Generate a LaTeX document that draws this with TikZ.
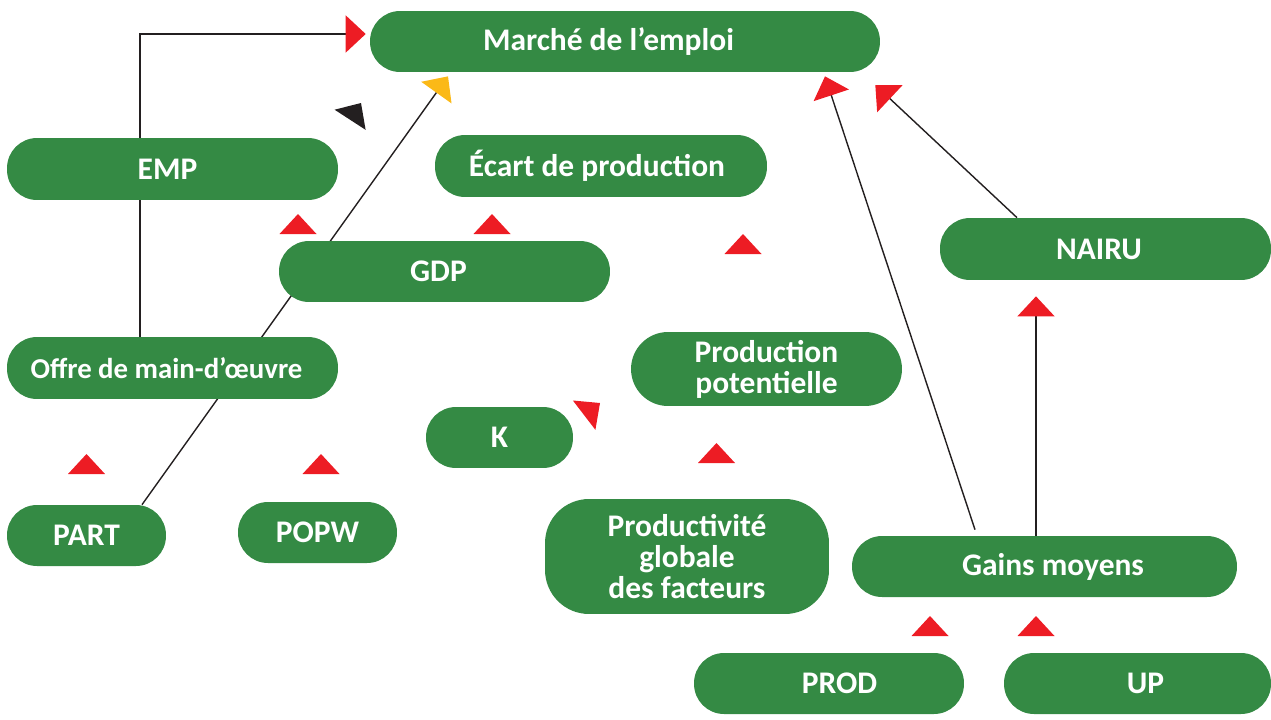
\documentclass[tikz,border=0pt]{standalone}
\usepackage{fontspec}
\setmainfont{Carlito}
\usepackage{xcolor}
\usepackage{tikz}
\usetikzlibrary{arrows.meta,calc,backgrounds}
\definecolor{boxgreen}{HTML}{348A44}
\definecolor{tipred}{HTML}{ED1C24}
\definecolor{tipyellow}{HTML}{FBB917}
\definecolor{tipblack}{HTML}{231F20}
\tikzset{%
  box/.style={fill=boxgreen, text=white, rounded corners=0.6cm, inner sep=0pt, minimum height=1.22cm, align=center, font=\fontsize{17.9}{17.6}\selectfont\bfseries},%
  textleft/.style={execute at end node={\hspace*{#1}}},%
  textright/.style={execute at begin node={\hspace*{#1}}},%
  link/.style={draw=tipblack, line width=0.8pt},%
  redtip/.style={-{Triangle[length=0.4cm, width=0.74cm, color=tipred]}},%
  yellowtip/.style={-{Triangle[length=0.4cm, width=0.74cm, color=tipyellow]}},%
  tri/.pic={\path[pic actions] (0,0) -- (-20,-18.5) -- (-20,18.5) -- cycle;},%
}

\begin{document}
\begin{tikzpicture}[x=0.02cm, y=-0.02cm]%
\useasboundingbox (0,0) rectangle (1271,720);%
\node[box, minimum width=10.2cm, textleft=0.66cm] (marche) at (625,41.5) {Marché de l’emploi};%
\node[box, minimum width=6.62cm, minimum height=1.24cm, textleft=0.2cm] (emp) at (172.5,169) {EMP};%
\node[box, minimum width=6.64cm, minimum height=1.24cm, textleft=0.16cm] (ecart) at (601,166) {Écart de production};%
\node[box, minimum width=6.62cm, textleft=0.24cm] (gdp) at (444.5,271.5) {GDP};%
\node[box, minimum width=6.62cm, minimum height=1.24cm, textleft=0.26cm] (nairu) at (1105.5,249) {NAIRU};%
\node[box, minimum width=6.62cm, minimum height=1.24cm, textleft=0.24cm, font=\fontsize{16.4}{17}\selectfont\bfseries] (offre) at (172.5,368) {Offre de main-d’œuvre};%
\node[box, minimum width=5.42cm, minimum height=1.48cm, rounded corners=0.74cm] (potent) at (766.5,369) {Production\\potentielle};%
\node[box, minimum width=2.94cm] (k) at (499.5,437.5) {K};%
\node[box, minimum width=3.18cm] (part) at (86.5,535.5) {PART};%
\node[box, minimum width=3.18cm] (popw) at (317.5,532.5) {POPW};%
\node[box, minimum width=5.68cm, minimum height=2.3cm, rounded corners=0.88cm] (pgf) at (687,556.5) {Productivité\\globale\\des facteurs};%
\node[box, minimum width=7.7cm, textright=0.34cm] (gains) at (1044.5,566.5) {Gains moyens};%
\node[box, minimum width=5.4cm, textright=0.42cm] (prod) at (829,683.5) {PROD};%
\node[box, minimum width=5.34cm, textright=0.32cm] (up) at (1137.5,683.5) {UP};%
\begin{pgfonlayer}{background}%
\draw[link, redtip] ($(offre.north)+(-32.5,0)$) |- ($(marche.west)+(-4,-7.5)$);%
\draw[link, yellowtip] ($(part.north)+(55.5,0)$) -- ($(marche.south)+(-177,4)$);%
\draw[link, redtip] ($(gains.north)+(-69.5,-6)$) -- ($(marche.south)+(200,4)$);%
\draw[link, redtip] ($(nairu.north)+(-88.5,0)$) -- ($(marche.east)+(-5,43.5)$);%
\draw[link, redtip] ($(gains.north)+(-8.5,0)$) -- ($(nairu.south)+(-69.5,16)$);%
\end{pgfonlayer}%
\pic[fill=tipblack, rotate=57] at (361,103) {tri};%
\pic[fill=tipred, rotate=37.5] at (600,403) {tri};%
\foreach \x/\y in {298/214, 492/214, 743/234, 86.5/454, 321/454, 716.5/443, 930/616, 1036/616}%
  \pic[fill=tipred, rotate=90] at (\x,\y) {tri};%
\end{tikzpicture}
\end{document}
